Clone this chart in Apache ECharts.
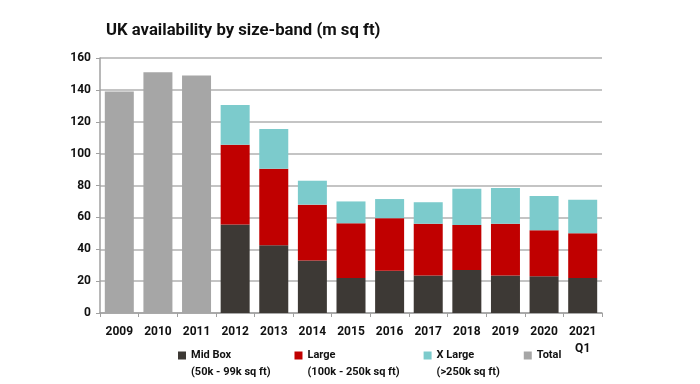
<!DOCTYPE html>
<html><head><meta charset="utf-8">
<script src="https://cdn.jsdelivr.net/npm/echarts@6/dist/echarts.min.js"></script>
<style>html,body{margin:0;padding:0;background:#fff}#c{width:700px;height:384px}</style>
</head><body><div id="c"></div>
<script>
const categories = ['2009','2010','2011','2012','2013','2014','2015','2016','2017','2018','2019','2020','2021\nQ1'];
const totalVals  = [139, 151, 149, '-', '-', '-', '-', '-', '-', '-', '-', '-', '-'];
const midBox     = ['-', '-', '-', 55.5, 42.5, 33, 22, 26.5, 23.5, 27, 23.5, 23, 22];
const large      = ['-', '-', '-', 50, 48, 35, 34.3, 33, 32.5, 28.2, 32.5, 29, 28];
const xLarge     = ['-', '-', '-', 25, 25, 15, 13.7, 12, 13.5, 22.8, 22.5, 21.4, 21];
const seriesNames = ['Mid Box', 'Large', 'X Large', 'Total'];
const legendSub = {'Mid Box':'(50k - 99k sq ft)','Large':'(100k - 250k sq ft)','X Large':'(>250k sq ft)','Total':' '};
const FONT = 'Roboto';
const chart = echarts.init(document.getElementById('c'));
const mk = (name, data, color) => ({name, type:'bar', stack:'s', data, barWidth:29,
  itemStyle:{color}, emphasis:{disabled:true}});
chart.setOption({
  animation:false,
  title:{text:'UK availability by size-band (m sq ft)', left:101, top:17,
    textStyle:{fontFamily:FONT, fontWeight:'bold', fontSize:16.7, color:'#111'}},
  grid:{left:100, right:98, top:58, bottom:71},
  legend:{left:173, top:325, itemWidth:8, itemHeight:8, itemGap:24, icon:'rect',
    data:seriesNames,
    formatter: n => ' \n' + n + '\n' + legendSub[n],
    textStyle:{fontFamily:FONT, fontWeight:'bold', fontSize:11, color:'#111', lineHeight:17}},
  xAxis:{type:'category', data:categories,
    axisLine:{lineStyle:{color:'#a0a0a0', width:1.5}},
    axisTick:{show:true, length:4, lineStyle:{color:'#a0a0a0'}},
    axisLabel:{fontFamily:FONT, fontWeight:'bold', fontSize:12, color:'#111', margin:10, lineHeight:17, interval:0}},
  yAxis:{type:'value', min:0, max:160, interval:20,
    axisLine:{show:true, lineStyle:{color:'#a0a0a0', width:1.5}},
    axisTick:{show:true, length:4, lineStyle:{color:'#a0a0a0'}},
    splitLine:{lineStyle:{color:'#b0b0b0', width:1.5}},
    axisLabel:{fontFamily:FONT, fontWeight:'bold', fontSize:12, color:'#111', margin:9}},
  series:[
    mk('Mid Box', midBox, '#3d3935'),
    mk('Large', large, '#c00000'),
    mk('X Large', xLarge, '#7ccbcc'),
    mk('Total', totalVals, '#a6a6a6')
  ]
});
</script></body></html>
